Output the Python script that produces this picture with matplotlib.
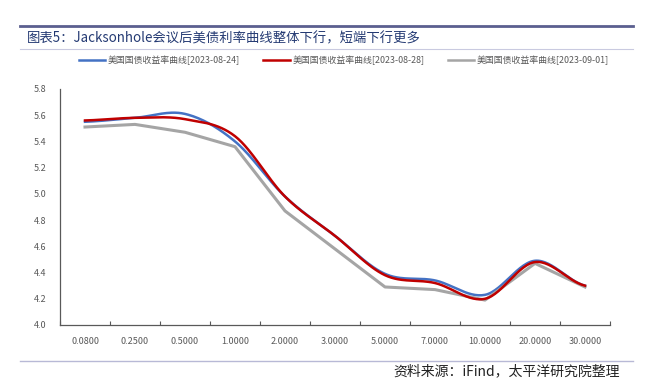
import numpy as np
import matplotlib
matplotlib.use("Agg")
import matplotlib.pyplot as plt
from matplotlib.lines import Line2D

plt.rcParams["font.family"] = ["Noto Sans CJK SC", "DejaVu Sans"]

# data
tenors = ["0.0800", "0.2500", "0.5000", "1.0000", "2.0000", "3.0000",
          "5.0000", "7.0000", "10.0000", "20.0000", "30.0000"]
curve_0824 = [5.55, 5.58, 5.61, 5.40, 4.98, 4.68, 4.39, 4.34, 4.23, 4.49, 4.30]
curve_0828 = [5.56, 5.58, 5.57, 5.44, 4.98, 4.68, 4.38, 4.32, 4.20, 4.48, 4.30]
curve_0901 = [5.51, 5.53, 5.47, 5.36, 4.87, 4.58, 4.29, 4.27, 4.19, 4.47, 4.29]
labels = ["美国国债收益率曲线[2023-08-24]",
          "美国国债收益率曲线[2023-08-28]",
          "美国国债收益率曲线[2023-09-01]"]
title = "图表5：Jacksonhole会议后美债利率曲线整体下行，短端下行更多"
source = "资料来源：iFind，太平洋研究院整理"

blue = "#4472C4"
red = "#C00000"
gray = "#A5A5A5"
txt = "#595959"


def smooth(y, n=30):
    # catmull-rom through the points, like excel's smoothed line
    y = np.asarray(y, float)
    p = np.concatenate([[y[0]], y, [y[-1]]])
    xs, ys = [], []
    for i in range(len(y) - 1):
        t = np.linspace(0, 1, n, endpoint=False)
        p0, p1, p2, p3 = p[i], p[i + 1], p[i + 2], p[i + 3]
        yy = 0.5 * ((2 * p1) + (-p0 + p2) * t + (2 * p0 - 5 * p1 + 4 * p2 - p3) * t ** 2
                    + (-p0 + 3 * p1 - 3 * p2 + p3) * t ** 3)
        xs.append(i + t)
        ys.append(yy)
    xs.append([len(y) - 1])
    ys.append([y[-1]])
    return np.concatenate(xs), np.concatenate(ys)


fig = plt.figure(figsize=(6.47, 3.87), dpi=100)
W, H = 647, 387
ax = fig.add_axes([60 / W, 1 - 325 / H, 550 / W, 236 / H])

x = np.arange(len(tenors))
ax.plot(x, curve_0901, color=gray, lw=2.2, solid_joinstyle="round")
sx, sy = smooth(curve_0828)
ax.plot(sx, sy, color=red, lw=1.8)
sx, sy = smooth(curve_0824)
ax.plot(sx, sy, color=blue, lw=1.8, zorder=1.9)

ax.set_xlim(-0.5, len(tenors) - 0.5)
ax.set_ylim(4.0, 5.8)
ax.set_yticks(np.arange(4.0, 5.81, 0.2))
ax.set_yticklabels([f"{v:.1f}" for v in np.arange(4.0, 5.81, 0.2)])
ax.set_xticks(x)
ax.set_xticklabels(tenors)
ax.set_xticks(np.arange(-0.5, len(tenors)), minor=True)
ax.tick_params(axis="x", which="major", length=0, pad=9, labelsize=6.5, colors=txt)
ax.tick_params(axis="x", which="minor", length=3, direction="in", color="#595959", width=0.8)
ax.tick_params(axis="y", length=0, pad=10, labelsize=6.5, colors=txt)
for s in ["top", "right"]:
    ax.spines[s].set_visible(False)
ax.spines["left"].set_color("#595959")
ax.spines["bottom"].set_color("#595959")
ax.spines["left"].set_linewidth(0.9)
ax.spines["bottom"].set_linewidth(0.9)

# legend
handles = [Line2D([], [], color=c, lw=1.8) for c in (blue, red, gray)]
fig.legend(handles, labels, loc="center", bbox_to_anchor=(344 / W, 1 - 60 / H),
           ncol=3, frameon=False, fontsize=6.4, handlelength=3.0,
           handletextpad=0.3, columnspacing=2.6, labelcolor=txt)

# header / footer
fig.add_artist(Line2D([20 / W, 633 / W], [1 - 26 / H, 1 - 26 / H], color="#5B5F8F", lw=2.0))
fig.add_artist(Line2D([20 / W, 633 / W], [1 - 49 / H, 1 - 49 / H], color="#C9CAE0", lw=0.8))
fig.add_artist(Line2D([20 / W, 633 / W], [1 - 361 / H, 1 - 361 / H], color="#B8B9D6", lw=1.0))
fig.text(27 / W, 1 - 38 / H, title, fontsize=9.6, color="#243A73", va="center", ha="left")
fig.text(620 / W, 1 - 371 / H, source, fontsize=10, color="#222222", va="center",
         ha="right", style="italic")

fig.savefig("out.png", dpi=100)
